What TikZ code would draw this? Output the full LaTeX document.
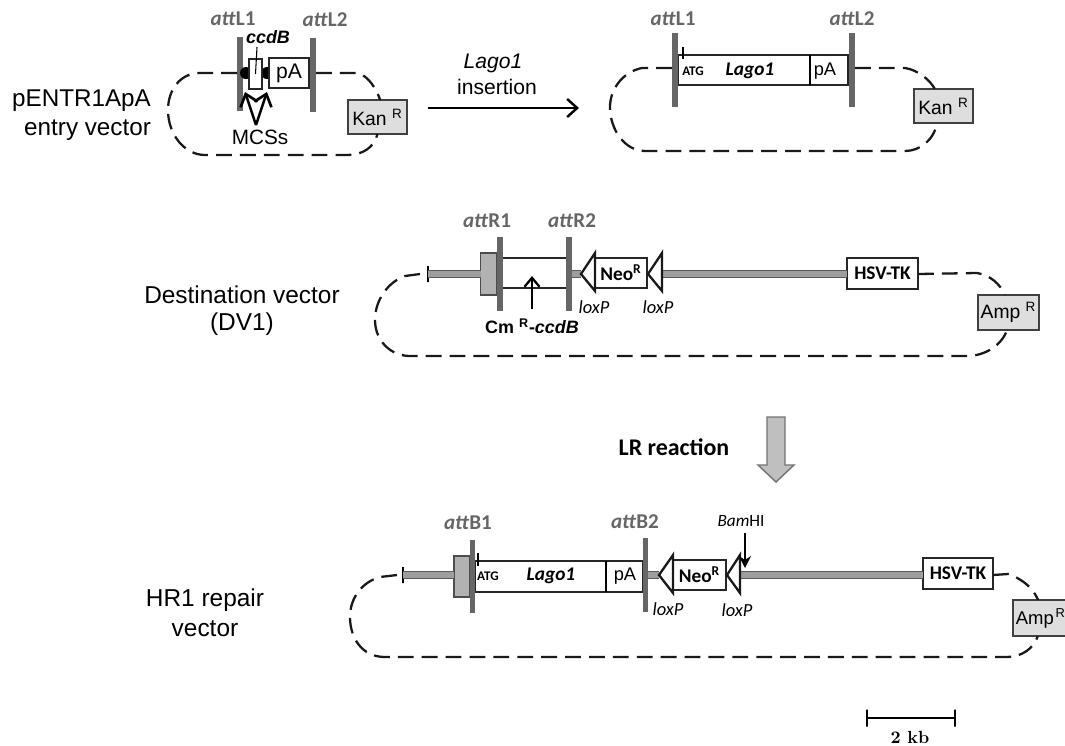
\documentclass[tikz,border=0pt]{standalone}
\usepackage{fontspec}
\setsansfont{Liberation Sans}
\renewcommand{\familydefault}{\sfdefault}
\newfontfamily\calib{Carlito}
\usepackage{xcolor}
\usetikzlibrary{positioning,arrows.meta,shapes}

\definecolor{attgray}{gray}{0.40}
\definecolor{kangray}{gray}{0.87}
\definecolor{shaftgray}{gray}{0.62}

\begin{document}
\begin{tikzpicture}[x=0.02cm,y=-0.02cm,
    size/.style 2 args={minimum width=#1*0.02cm, minimum height=#2*0.02cm, inner sep=0pt, outer sep=0pt},
    lab/.style={align=center},
    att/.style={font=\calib\bfseries\fontsize{12}{14}\selectfont, text=attgray},
    box/.style={draw=black!85, line width=1.3pt, fill=white},
    res/.style={draw=black!75, line width=0.8pt, fill=kangray, font=\fontsize{11}{13}\selectfont},
    bar/.style={fill=attgray, draw=none},
    grayb/.style={draw=black!70, line width=0.6pt, fill=gray!60},
    loop/.style={draw=black!90, line width=1.3pt, dash pattern=on 9pt off 4.6pt},
    shaft/.style={draw=black!65, line width=0.6pt, double=shaftgray, double distance=3.6pt},
    lox/.style={draw=black!90, line width=1.3pt, fill=white, line join=miter},
    lx/.style={font=\calib\itshape\fontsize{10.5}{12}\selectfont},
    hs/.style={font=\calib\bfseries\fontsize{11}{13}\selectfont},
    ng/.style={font=\calib\bfseries\fontsize{11}{13}\selectfont},
    ag/.style={font=\calib\bfseries\fontsize{7.5}{9}\selectfont},
    lg/.style={font=\calib\bfseries\itshape\fontsize{11}{13}\selectfont},
    barb/.style={-{Straight Barb[length=2.2mm,width=3.6mm,line width=1.5pt]}}
  ]
  \useasboundingbox (0,0) rectangle (1065,745);

  % entry vector, left
  \node[align=right, font=\fontsize{13.8}{16.5}\selectfont] (entry) at (81.5,115) {pENTR1ApA\\entry vector};
  \node[att] (l1) at (233,19) {\textit{att}L1};
  \node[att] (l2) at (325,20) {\textit{att}L2};
  \node[bar, size={6}{74}] (bl1) at (240,74) {};
  \node[bar, size={6}{74}] (bl2) at (313,75) {};
  \node[fill=black, circle, size={12}{12}] (d1) at (246,73) {};
  \node[fill=black, circle, size={12}{12}] (d2) at (267,73) {};
  \node[box, size={13}{30}] (ccdb) at (255.5,74) {};
  \node[box, size={40}{30}, font=\fontsize{12}{14}\selectfont] (pa) at (289,73) {pA};
  \node[font=\bfseries\itshape\fontsize{10.2}{12}\selectfont] (ccdl) at (268,37) {ccdB};
  \node[font=\fontsize{11.8}{14}\selectfont] (mcs) at (260,137) {MCSs};
  \node[res, size={59}{34}] (kan) at (377.5,117) {Kan \textsuperscript{R}};
  \coordinate (mc) at (256,125);
  \coordinate (mca) at (245,92);
  \coordinate (mcb) at (267,92);
  \draw[line width=0.6pt] (257,47) -- (ccdb.center);
  \draw[barb, line width=1.4pt] (mc) -- (mca);
  \draw[barb, line width=1.4pt] (mc) -- (mcb);
  \draw[loop] (bl1.west |- pa) -- (200,73) .. controls (180,73) and (168,90) .. (168,110)
    .. controls (168,135) and (185,155) .. (205,155) -- (347,155) .. controls (362,155) and (374,148) .. (kan.south);
  \draw[loop] (bl2.east |- pa) -- (358,73) .. controls (368,76) and (376,88) .. (kan.81);

  % entry vector, right
  \node[att] (l3) at (673,19) {\textit{att}L1};
  \node[att] (l4) at (852,19) {\textit{att}L2};
  \node[box, size={170}{30}] (lago) at (763,70) {};
  \node[bar, size={6}{74}] (bl3) at (675,70) {};
  \node[bar, size={6}{74}] (bl4) at (852,70) {};
  \node[ag] (atg) at (693,71) {ATG};
  \node[lg] (lga) at (750,71) {Lago1};
  \node[font=\fontsize{10.4}{13}\selectfont] (pb) at (825,71) {pA};
  \node[res, size={59}{34}] (kanb) at (943.5,106) {Kan \textsuperscript{R}};
  \coordinate (dv) at (810,55);
  \coordinate (dw) at (810,85);
  \coordinate (ta) at (683,47);
  \coordinate (tb) at (683,59);
  \draw[line width=1.3pt] (dv) -- (dw);
  \draw[line width=0.9pt] (ta) -- (tb);
  \draw[loop] (bl3.west |- 0,68) -- (642,68) .. controls (622,72) and (610,90) .. (610,107)
    .. controls (610,130) and (625,151) .. (645,151) -- (905,151) .. controls (920,151) and (934,140) .. (kanb.249);
  \draw[loop] (bl4.east |- 0,68) -- (905,68) .. controls (918,70) and (930,80) .. (kanb.117);

  % insertion arrow
  \node[font=\itshape\fontsize{12}{14}\selectfont] (lgi) at (493,63) {Lago1};
  \node[font=\fontsize{12}{14}\selectfont] (ins) at (497,87) {insertion};
  \coordinate (ia) at (428,108);
  \coordinate (ib) at (579,108);
  \draw[-{Straight Barb[length=2mm,width=3.6mm]}, line width=1.4pt] (ia) -- (ib);

  % destination vector
  \node[lab, font=\fontsize{13.9}{15.4}\selectfont] (dest) at (242,311) {Destination vector\\(DV1)};
  \node[att] (r1) at (487,221) {\textit{att}R1};
  \node[att] (r2) at (572,221) {\textit{att}R2};
  \node[grayb, size={16}{42}] (gb) at (488.5,274) {};
  \node[bar, size={6}{74}] (br1) at (500,274) {};
  \node[bar, size={6}{74}] (br2) at (569,274) {};
  \coordinate (ca) at (503,258);
  \coordinate (cb) at (566,258);
  \coordinate (cc) at (503,288);
  \coordinate (cd) at (566,288);
  \draw[line width=1.2pt, black!85] (ca) -- (cb);
  \draw[line width=1.2pt, black!85] (cc) -- (cd);
  \node[draw=black, line width=1pt, size={0}{16}] (tk) at (428,274) {};
  \node[box, size={52}{30}, ng] (neo) at (621,273) {Neo\textsuperscript{R}};
  \node[box, size={71}{31}, hs] (hsv) at (882.5,273.5) {HSV-TK};
  \coordinate (ta1) at (581,274);
  \coordinate (ta2) at (662,274);
  \draw[shaft] (tk) -- (gb.west);
  \draw[shaft] (br2.east) -- (ta1);
  \draw[shaft] (ta2) -- (hsv.west |- ta2);
  \draw[lox] (ta1) -- (595,253) -- (595,291) -- cycle;
  \draw[lox] (ta2 -| 648,0) -- (662,253) -- (662,291) -- cycle;
  \node[lx] (lx1) at (594,307) {loxP};
  \node[lx] (lx2) at (658,307) {loxP};
  \node[font=\bfseries\fontsize{10.2}{13}\selectfont] (cm) at (532,326) {Cm \textsuperscript{R}-\textit{ccdB}};
  \coordinate (ar) at (532,309);
  \coordinate (as) at (532,276);
  \draw[-{Straight Barb[length=1.8mm,width=3mm,line width=1.3pt]}, line width=0.7pt] (ar) -- (as);
  \node[res, size={61}{35}] (amp) at (1008.5,312.5) {Amp \textsuperscript{R}};
  \draw[loop] (tk) ++(-8,0) -- (405,276) .. controls (388,282) and (375,300) .. (375,320)
    .. controls (375,340) and (390,356) .. (410,356) -- (967,356) .. controls (985,356) and (1002,345) .. (amp.265);
  \draw[loop] (hsv.east |- tk) -- (977,273) .. controls (990,275) and (1000,284) .. (amp.101);

  % LR reaction
  \node[font=\calib\bfseries\fontsize{13.6}{16}\selectfont] (lr) at (674,447) {LR reaction};
  \draw[draw=black!55, line width=0.8pt, fill=gray!50] (767,417) -- (785,417) -- (785,465) -- (794,465)
    -- (776,482) -- (758,465) -- (767,465) -- cycle;

  % repair vector
  \node[lab, font=\fontsize{13.9}{17}\selectfont] (hr) at (205,613) {HR1 repair\\vector};
  \node[att] (b1) at (468,523) {\textit{att}B1};
  \node[att] (b2) at (635,522) {\textit{att}B2};
  \node[grayb, size={16}{41}] (gc) at (462,576.5) {};
  \node[box, size={168}{31}] (lag) at (559,576.5) {};
  \node[bar, size={5}{73}] (bb1) at (472.5,576.5) {};
  \node[bar, size={5}{74}] (bb2) at (645.5,575) {};
  \node[draw=black, line width=1pt, size={0}{16}] (tl) at (403,575) {};
  \node[ag] (atgb) at (488,576) {ATG};
  \node[lg] (lgb) at (551,576) {Lago1};
  \node[font=\fontsize{10.4}{13}\selectfont] (pc) at (625,576) {pA};
  \coordinate (ea) at (606,561);
  \coordinate (eb) at (606,592);
  \coordinate (ec) at (478,553);
  \coordinate (ed) at (478,566);
  \draw[line width=1.3pt] (ea) -- (eb);
  \draw[line width=0.9pt] (ec) -- (ed);
  \node[box, size={53}{30}, ng] (neob) at (699.5,575) {Neo\textsuperscript{R}};
  \node[box, size={70}{31}, hs] (hsvb) at (958,573.5) {HSV-TK};
  \coordinate (tb1) at (659,575);
  \coordinate (tb2) at (740,575);
  \draw[shaft] (tl) -- (gc.west |- tl);
  \draw[shaft] (bb2.east) -- (tb1);
  \draw[shaft] (tb2) -- (hsvb.west |- tb2);
  \draw[lox] (tb1) -- (673,555) -- (673,593) -- cycle;
  \draw[lox] (727,575) -- (740,555) -- (740,593) -- cycle;
  \node[lx] (lx3) at (668,609) {loxP};
  \node[lx] (lx4) at (737,610) {loxP};
  \node[font=\calib\fontsize{9.8}{12}\selectfont] (bam) at (741,521) {\textit{Bam}HI};
  \coordinate (bt) at (745,568);
  \draw[-{Stealth[length=2.4mm,width=2.4mm]}, line width=0.7pt] (bam.south -| bt) -- (bt);
  \node[res, size={60}{36}] (ampb) at (1043,618) {};
  \node[anchor=west, inner sep=0pt, font=\fontsize{10.5}{13}\selectfont] (ampl) at (1015.5,618) {Amp\kern1pt\textsuperscript{R}};
  \draw[loop] (tl) ++(-6,0) -- (380,577) .. controls (362,582) and (350,598) .. (350,617)
    .. controls (350,638) and (362,657) .. (385,657) -- (1007,657) .. controls (1022,657) and (1034,648) .. (ampb.254);
  \draw[loop] (hsvb.east |- tl) -- (1008,574) .. controls (1020,578) and (1032,586) .. (ampb.105);

  % scale bar
  \node[draw=black, line width=1.3pt, size={0}{17}] (sa) at (867,718) {};
  \node[draw=black, line width=1.3pt, size={0}{17}] (sb) at (955,718) {};
  \draw[line width=1.6pt] (sa) -- (sb);
  \node[font=\rmfamily\bfseries\fontsize{10}{12}\selectfont] (kb) at (910,737) {2 kb};
\end{tikzpicture}
\end{document}
